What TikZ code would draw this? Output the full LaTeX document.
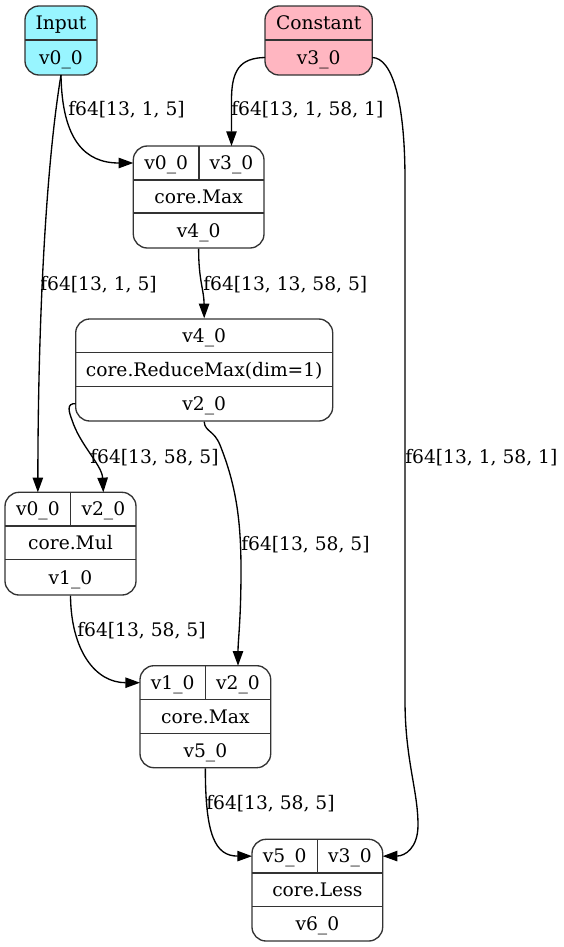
\documentclass[tikz,border=0pt]{standalone}
\usepackage{fontspec}
\setmainfont{DejaVu Serif}
\usetikzlibrary{fit,arrows.meta}
\definecolor{inputfill}{HTML}{98F5FF}
\definecolor{constfill}{HTML}{FFB6C1}
\newcommand\rcell[6]{%
  \pgfmathsetmacro\rcx{(#2+#4)/2}%
  \pgfmathsetmacro\rcy{(#3+#5)/2}%
  \pgfmathsetmacro\rcw{abs(#4-#2)*0.75}%
  \pgfmathsetmacro\rch{abs(#5-#3)*0.75}%
  \node[cell, minimum width=\rcw pt, minimum height=\rch pt] (#1) at (\rcx,\rcy) {#6};}
\begin{document}
\begin{tikzpicture}[x=0.75pt,y=-0.75pt,
  font=\fontsize{14}{17}\selectfont,
  rec/.style={draw=black!80, line width=1pt, rounded corners=10.5pt, inner sep=0pt},
  cell/.style={inner sep=0pt, outer sep=0pt, text height=10.2pt, text depth=0pt},
  div/.style={draw=black!80, line width=1pt},
  edge/.style={draw, line width=1pt, -{Triangle[length=11pt,width=7.8pt]}},
  lbl/.style={anchor=west, inner sep=0pt, text height=10.2pt, text depth=0pt}]
\useasboundingbox (0,0) rectangle (564,947);

% ---------- Input ----------
\node[rec, fill=inputfill, fit={(25,6) (97,75)}] (input) {};
\draw[div] (25,40) -- (97,40);
\rcell{inputT}{25}{6}{97}{40}{Input}
\rcell{inputV}{25}{40}{97}{75}{v0\_0}

% ---------- Constant ----------
\node[rec, fill=constfill, fit={(265,6) (372.3,75)}] (const) {};
\draw[div] (265,40) -- (372.3,40);
\rcell{constT}{265}{6}{372.3}{40}{Constant}
\rcell{constV}{265}{40}{372.3}{75}{v3\_0}

% ---------- core.Max (v4) ----------
\node[rec, fit={(133.3,146) (264,248)}] (max4) {};
\draw[div] (133.3,180) -- (264,180);
\draw[div] (133.3,213) -- (264,213);
\draw[div] (199,146) -- (199,180);
\rcell{max4p1}{133.3}{146}{199}{180}{v0\_0}
\rcell{max4p2}{199}{146}{264}{180}{v3\_0}
\rcell{max4op}{133.3}{180}{264}{213}{core.Max}
\rcell{max4out}{133.3}{213}{264}{248}{v4\_0}

% ---------- core.ReduceMax ----------
\node[rec, fit={(75.7,319) (332.7,421)}] (rmax) {};
\draw[div] (75.7,352.5) -- (332.7,352.5);
\draw[div] (75.7,386.3) -- (332.7,386.3);
\rcell{rmaxIn}{75.7}{319}{332.7}{352.5}{v4\_0}
\rcell{rmaxOp}{75.7}{352.5}{332.7}{386.3}{core.ReduceMax(dim=1)}
\rcell{rmaxV}{75.7}{386.3}{332.7}{421}{v2\_0}

% ---------- core.Mul ----------
\node[rec, fit={(5,492.3) (136,595)}] (mul) {};
\draw[div] (5,526) -- (136,526);
\draw[div] (5,559.5) -- (136,559.5);
\draw[div] (70.7,492.3) -- (70.7,526);
\rcell{mulp1}{5}{492.3}{70.7}{526}{v0\_0}
\rcell{mulp2}{70.7}{492.3}{136}{526}{v2\_0}
\rcell{mulop}{5}{526}{136}{559.5}{core.Mul}
\rcell{mulout}{5}{559.5}{136}{595}{v1\_0}

% ---------- core.Max (v5) ----------
\node[rec, fit={(140,665.7) (270.7,767.7)}] (max5) {};
\draw[div] (140,699.7) -- (270.7,699.7);
\draw[div] (140,733.3) -- (270.7,733.3);
\draw[div] (205.3,665.7) -- (205.3,699.7);
\rcell{max5p1}{140}{665.7}{205.3}{699.7}{v1\_0}
\rcell{max5p2}{205.3}{665.7}{270.7}{699.7}{v2\_0}
\rcell{max5op}{140}{699.7}{270.7}{733.3}{core.Max}
\rcell{max5out}{140}{733.3}{270.7}{767.7}{v5\_0}

% ---------- core.Less ----------
\node[rec, fit={(252,839.3) (382.7,941)}] (less) {};
\draw[div] (252,873) -- (382.7,873);
\draw[div] (252,906.3) -- (382.7,906.3);
\draw[div] (317.3,839.3) -- (317.3,873);
\rcell{lessp1}{252}{839.3}{317.3}{873}{v5\_0}
\rcell{lessp2}{317.3}{839.3}{382.7}{873}{v3\_0}
\rcell{lessop}{252}{873}{382.7}{906.3}{core.Less}
\rcell{lessout}{252}{906.3}{382.7}{941}{v6\_0}

% ---------- edges ----------
\draw[edge] (inputV.south) .. controls (62,140) and (85,163) .. (max4p1.west);
\draw[edge] (constV.west) .. controls (240,58) and (231.5,70) .. (231.5,100) -- (max4p2.north);
\draw[edge] (max4.south) .. controls (198.5,280) and (204,290) .. (rmax.north);
\draw[edge] (inputV.south) .. controls (46,165) and (38,320) .. (mulp1.north);
\draw[edge] (rmaxV.west) .. controls (66,403) and (69,412) .. (72,420)
  .. controls (80,445) and (102,465) .. (mulp2.north);
\draw[edge] (rmax.south) .. controls (205,432) and (214,430) .. (220,445)
  .. controls (236,485) and (241,520) .. (241,570)
  .. controls (241,620) and (238,640) .. (max5p2.north);
\draw[edge] (mul.south) .. controls (71,650) and (95,682.7) .. (max5p1.west);
\draw[edge] (max5.south) .. controls (205.3,835) and (215,856) .. (lessp1.west);
\draw[edge] (constV.east) .. controls (392,58) and (405,100) .. (405,180)
  -- (405,700) .. controls (405,760) and (418,790) .. (418,825)
  .. controls (418,848) and (405,856) .. (lessp2.east);

% ---------- labels ----------
\node[lbl] (l1) at (68,109) {f64[13, 1, 5]};
\node[lbl] (l2) at (231,109) {f64[13, 1, 58, 1]};
\node[lbl] (l3) at (203,284) {f64[13, 13, 58, 5]};
\node[lbl] (l4) at (40,284) {f64[13, 1, 5]};
\node[lbl] (l5) at (90,457) {f64[13, 58, 5]};
\node[lbl] (l6) at (241,544) {f64[13, 58, 5]};
\node[lbl] (l7) at (77,630) {f64[13, 58, 5]};
\node[lbl] (l8) at (206,803) {f64[13, 58, 5]};
\node[lbl] (l9) at (405,457) {f64[13, 1, 58, 1]};
\end{tikzpicture}
\end{document}
